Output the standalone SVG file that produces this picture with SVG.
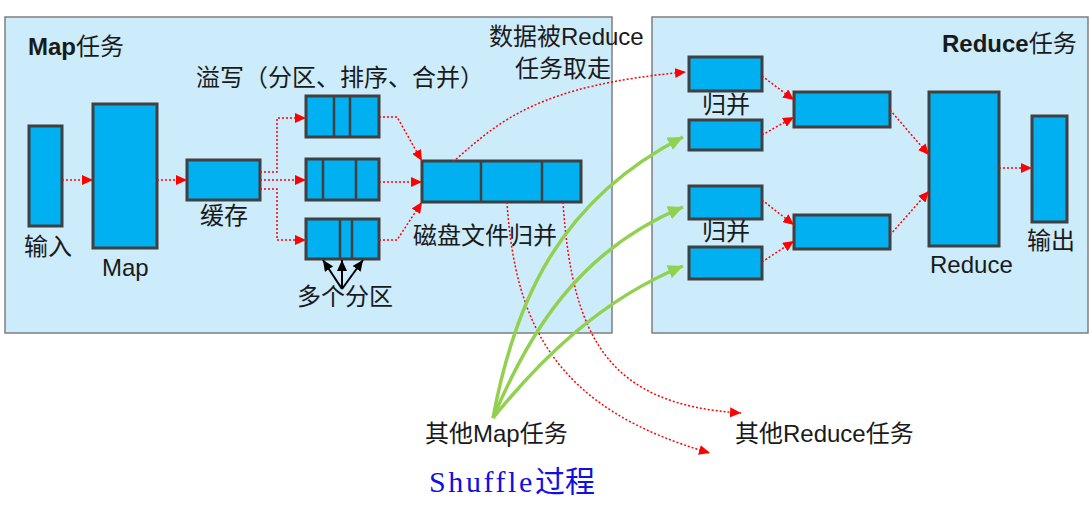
<svg xmlns="http://www.w3.org/2000/svg" width="1092" height="527" viewBox="0 0 1092 527">
<style>
.panel{fill:#CCEBFB;stroke:#7F7F7F;stroke-width:1.5}
.box{fill:#00B0F0;stroke:#404040;stroke-width:3}
.div{stroke:#404040;stroke-width:2.5}
.t{font-family:"Liberation Sans","Noto Sans CJK SC",sans-serif;font-size:24px;fill:#1a1a1a}
.b{font-weight:bold}
.red{fill:none;stroke:#FF0000;stroke-width:1.5;stroke-dasharray:2 2;marker-end:url(#ra)}
.green{fill:none;stroke:#92D050;stroke-width:3.5;marker-end:url(#ga)}
.blk{fill:none;stroke:#000;stroke-width:2;marker-end:url(#ba)}
</style>
<defs>
<marker id="ra" markerUnits="userSpaceOnUse" markerWidth="12" markerHeight="10" refX="11" refY="5" orient="auto"><path d="M0,0 L11,5 L0,10 z" fill="#FF0000"/></marker>
<marker id="ga" markerUnits="userSpaceOnUse" markerWidth="16" markerHeight="14" refX="15" refY="7" orient="auto"><path d="M0,0 L15,7 L0,14 z" fill="#92D050"/></marker>
<marker id="ba" markerUnits="userSpaceOnUse" markerWidth="12" markerHeight="10" refX="11" refY="5" orient="auto"><path d="M0,0 L11,5 L0,10 z" fill="#000"/></marker>
</defs>
<rect width="1092" height="527" fill="#FFFFFF"/>

<g id="map-panel">
<rect class="panel" x="5" y="17" width="607" height="316"/>
<text class="t b" x="28" y="55">Map<tspan font-weight="normal">任务</tspan></text>
</g>
<g id="reduce-panel">
<rect class="panel" x="652" y="17" width="436" height="316"/>
<text class="t b" x="942" y="52" font-size="20">Reduce<tspan font-weight="normal" font-size="24">任务</tspan></text>
</g>

<g id="input"><rect class="box" x="29" y="126" width="33" height="100"/><text class="t" x="24" y="255">输入</text></g>
<g id="map"><rect class="box" x="93" y="104" width="64" height="144"/><text class="t" x="102" y="276" font-size="23">Map</text></g>
<g id="cache"><rect class="box" x="187" y="160" width="73" height="40"/><text class="t" x="200" y="224">缓存</text></g>
<g id="spill-label"><text class="t" x="196" y="86" font-size="23">溢写（分区、排序、合并）</text></g>
<g id="spill1"><rect class="box" x="306" y="96" width="73" height="41"/><line class="div" x1="334" y1="96" x2="334" y2="137"/><line class="div" x1="350" y1="96" x2="350" y2="137"/></g>
<g id="spill2"><rect class="box" x="306" y="159" width="73" height="41"/><line class="div" x1="323" y1="159" x2="323" y2="200"/><line class="div" x1="356" y1="159" x2="356" y2="200"/></g>
<g id="spill3"><rect class="box" x="306" y="219" width="73" height="40"/><line class="div" x1="340" y1="219" x2="340" y2="259"/><line class="div" x1="352" y1="219" x2="352" y2="259"/></g>
<g id="partitions"><text class="t" x="297" y="305">多个分区</text></g>
<g id="merge-file"><rect class="box" x="422" y="161" width="159" height="41"/><line class="div" x1="481" y1="161" x2="481" y2="202"/><line class="div" x1="542" y1="161" x2="542" y2="202"/><text class="t" x="413" y="244">磁盘文件归并</text></g>
<g id="fetch-label"><text class="t" x="489" y="45" font-size="23">数据被Reduce</text><text class="t" x="515" y="77">任务取走</text></g>

<g id="r1a"><rect class="box" x="689" y="57" width="73" height="34"/></g>
<g id="r1b"><rect class="box" x="689" y="120" width="73" height="30"/></g>
<g id="merge1-label"><text class="t" x="702" y="113">归并</text></g>
<g id="r2a"><rect class="box" x="689" y="186" width="73" height="33"/></g>
<g id="r2b"><rect class="box" x="689" y="247" width="73" height="32"/></g>
<g id="merge2-label"><text class="t" x="702" y="240">归并</text></g>
<g id="m1"><rect class="box" x="794" y="92" width="96" height="35"/></g>
<g id="m2"><rect class="box" x="794" y="215" width="96" height="34"/></g>
<g id="reduce"><rect class="box" x="929" y="92" width="70" height="154"/><text class="t" x="930" y="273" font-size="21">Reduce</text></g>
<g id="output"><rect class="box" x="1032" y="116" width="35" height="106"/><text class="t" x="1027" y="249">输出</text></g>

<g id="other-map"><text class="t" x="425" y="442">其他Map任务</text></g>
<g id="other-reduce"><text class="t" x="735" y="442">其他Reduce任务</text></g>
<g id="title"><text x="429" y="492" fill="#1010E0" font-family="Liberation Serif,serif" font-size="30" letter-spacing="2.6">Shuffle<tspan font-family="Noto Sans CJK SC,sans-serif" font-size="30" letter-spacing="0">过程</tspan></text></g>

<g id="connectors">
<path class="red" d="M62,180 H93"/>
<path class="red" d="M157,180 H187"/>
<path class="red" d="M260,172 H277 V118 H306"/>
<path class="red" d="M260,180 H306"/>
<path class="red" d="M260,189 H277 V240 H306"/>
<path class="red" d="M379,117 H397 L422,161"/>
<path class="red" d="M379,182 H422"/>
<path class="red" d="M379,240 H397 L422,202"/>
<path class="red" d="M453,162 C500,120 540,85 686,72"/>
<path class="red" d="M507,202 C515,330 560,410 710,453"/>
<path class="red" d="M563,202 C572,340 610,405 741,413"/>
<path class="red" d="M762,76 L794,100"/>
<path class="red" d="M762,135 L794,117"/>
<path class="red" d="M762,200 L794,225"/>
<path class="red" d="M762,262 L794,241"/>
<path class="red" d="M890,110 L929,155"/>
<path class="red" d="M890,235 L929,191"/>
<path class="red" d="M999,168 H1032"/>
<path class="green" d="M493,418 C515,300 560,200 683,137"/>
<path class="green" d="M493,418 C530,330 580,250 683,207"/>
<path class="green" d="M493,418 C540,360 600,300 683,266"/>
<path class="blk" d="M342,289 L323,260"/>
<path class="blk" d="M342,289 L342,260"/>
<path class="blk" d="M342,289 L363,260"/>
</g>
</svg>
